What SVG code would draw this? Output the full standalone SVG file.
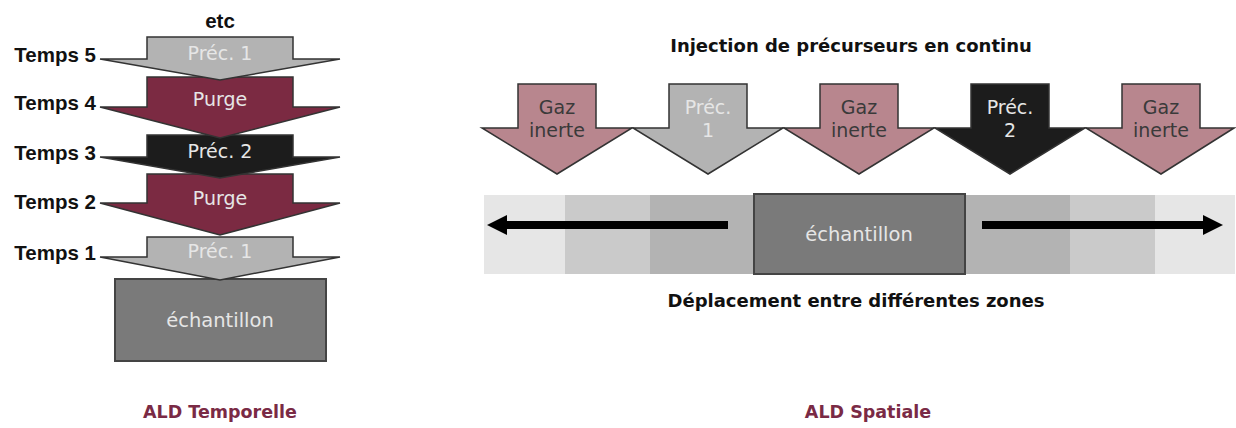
<svg xmlns="http://www.w3.org/2000/svg" width="1236" height="428" viewBox="0 0 1236 428">
<style>
.arr{stroke:#333;stroke-width:1.5;stroke-linejoin:miter}
.p1{fill:#b3b3b3}
.pg{fill:#7b2a42}
.p2{fill:#1c1c1c}
.gz{fill:#b8868e}
.lbl{font-family:"DejaVu Sans",Verdana,sans-serif;font-size:19px;text-anchor:middle}
.big{font-size:19.5px}
.lt{fill:#e6e6e6}
.dk{fill:#3a3a3a}
.tm{font-family:"Liberation Sans",Arial,sans-serif;font-weight:bold;font-size:20.5px;fill:#111}
.ttl{font-family:"DejaVu Sans",Verdana,sans-serif;font-weight:bold;font-size:18px;fill:#111;text-anchor:middle}
.ald{font-family:"DejaVu Sans",Verdana,sans-serif;font-weight:bold;font-size:17.5px;fill:#7a2a45;text-anchor:middle}
.smp{fill:#7a7a7a;stroke:#444;stroke-width:2}
</style>
<defs>
<marker id="head" markerUnits="userSpaceOnUse" markerWidth="22" markerHeight="22" refX="0" refY="10" orient="auto">
<path d="M0,0 L20,10 L0,20 z" fill="#000"/>
</marker>
</defs>
<rect width="1236" height="428" fill="#fff"/>

<!-- Temporal ALD -->
<text class="tm" x="220" y="28" text-anchor="middle">etc</text>
<g id="sample-temporal">
<rect class="smp" x="115" y="279" width="211" height="82"/>
<text class="lbl big lt" x="220" y="327">échantillon</text>
</g>
<g id="t1">
<path class="arr p1" d="M147,237 H293 V257 H340 L220,280 L100,257 H147 Z"/>
<text class="lbl lt" x="220" y="258">Préc. 1</text>
<text class="tm" x="96" y="260" text-anchor="end">Temps 1</text>
</g>
<g id="t2">
<path class="arr pg" d="M147,174 H293 V203 H340 L220,235 L100,203 H147 Z"/>
<text class="lbl lt" x="220" y="205">Purge</text>
<text class="tm" x="96" y="209" text-anchor="end">Temps 2</text>
</g>
<g id="t3">
<path class="arr p2" d="M147,135 H293 V157 H340 L220,178 L100,157 H147 Z"/>
<text class="lbl lt" x="220" y="158">Préc. 2</text>
<text class="tm" x="96" y="160" text-anchor="end">Temps 3</text>
</g>
<g id="t4">
<path class="arr pg" d="M147,77 H293 V107 H340 L220,138 L100,107 H147 Z"/>
<text class="lbl lt" x="220" y="106">Purge</text>
<text class="tm" x="96" y="110" text-anchor="end">Temps 4</text>
</g>
<g id="t5">
<path class="arr p1" d="M147,37 H293 V59 H340 L220,80 L100,59 H147 Z"/>
<text class="lbl lt" x="220" y="60">Préc. 1</text>
<text class="tm" x="96" y="62" text-anchor="end">Temps 5</text>
</g>
<text class="ald" x="220" y="418">ALD Temporelle</text>

<!-- Spatial ALD -->
<text class="ttl" x="851" y="52">Injection de précurseurs en continu</text>
<g id="s1">
<path class="arr gz" d="M518,84 H596 V128 H632 L557,174 L482,128 H518 Z"/>
<text class="lbl dk" x="557" y="114">Gaz</text>
<text class="lbl dk" x="557" y="137">inerte</text>
</g>
<g id="s2">
<path class="arr p1" d="M669,84 H747 V128 H783 L708,174 L633,128 H669 Z"/>
<text class="lbl lt" x="708" y="114">Préc.</text>
<text class="lbl lt" x="708" y="137">1</text>
</g>
<g id="s3">
<path class="arr gz" d="M820,84 H898 V128 H934 L859,174 L784,128 H820 Z"/>
<text class="lbl dk" x="859" y="114">Gaz</text>
<text class="lbl dk" x="859" y="137">inerte</text>
</g>
<g id="s4">
<path class="arr p2" d="M971,84 H1049 V128 H1085 L1010,174 L935,128 H971 Z"/>
<text class="lbl lt" x="1010" y="114">Préc.</text>
<text class="lbl lt" x="1010" y="137">2</text>
</g>
<g id="s5">
<path class="arr gz" d="M1122,84 H1200 V128 H1234 L1161,174 L1086,128 H1122 Z"/>
<text class="lbl dk" x="1161" y="114">Gaz</text>
<text class="lbl dk" x="1161" y="137">inerte</text>
</g>

<g id="zones">
<rect x="484" y="195" width="81" height="79" fill="#e6e6e6"/>
<rect x="565" y="195" width="85" height="79" fill="#cacaca"/>
<rect x="650" y="195" width="105" height="79" fill="#b3b3b3"/>
<rect x="965" y="195" width="105" height="79" fill="#b3b3b3"/>
<rect x="1070" y="195" width="85" height="79" fill="#cacaca"/>
<rect x="1155" y="195" width="80" height="79" fill="#e6e6e6"/>
</g>
<g id="sample-spatial">
<rect class="smp" x="754" y="194" width="211" height="80"/>
<text class="lbl big lt" x="859" y="241">échantillon</text>
</g>
<g id="connectors">
<line x1="728" y1="225" x2="507" y2="225" stroke="#000" stroke-width="8" marker-end="url(#head)"/>
<line x1="982" y1="225" x2="1203" y2="225" stroke="#000" stroke-width="8" marker-end="url(#head)"/>
</g>
<text class="ttl" x="856" y="307">Déplacement entre différentes zones</text>
<text class="ald" x="868" y="418">ALD Spatiale</text>
</svg>
